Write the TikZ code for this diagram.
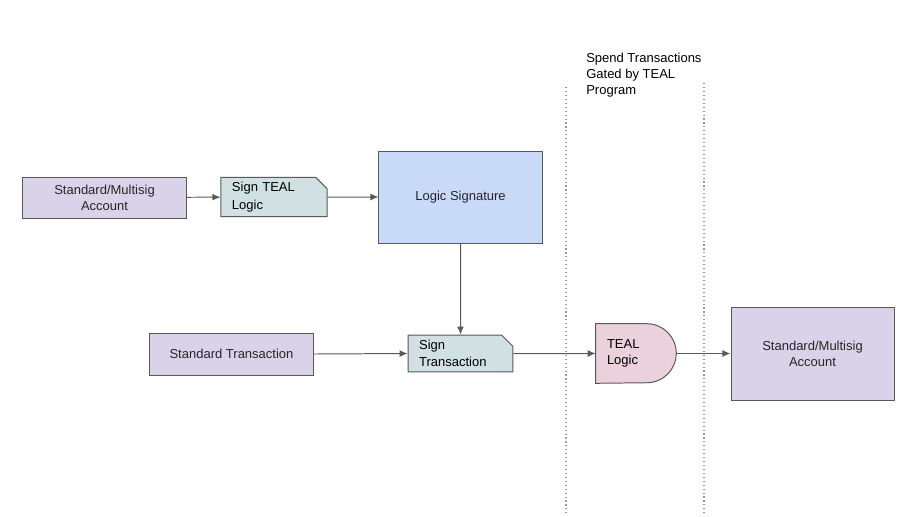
\documentclass[tikz,border=0pt]{standalone}
\usepackage{fontspec}
\setmainfont{Liberation Sans}
\usetikzlibrary{arrows.meta,shapes.misc}

\definecolor{boxline}{HTML}{595959}
\definecolor{lavender}{HTML}{D9D2E9}
\definecolor{tealfill}{HTML}{D0E0E3}
\definecolor{bluefill}{HTML}{C9DAF8}
\definecolor{pinkfill}{HTML}{EAD1DC}

\tikzset{
	acctbox/.style={draw=boxline, line width=0.7pt, fill=lavender, align=center, text=black!85, minimum width=4.075cm},
	signcard/.style={chamfered rectangle, chamfered rectangle corners=north east, chamfered rectangle xsep=0.16cm,
		draw=boxline, line width=0.7pt, fill=tealfill, align=left, inner xsep=0.115cm, inner ysep=0pt,
		font=\fontsize{9.25}{12.4}\selectfont},
	flow/.style={draw=boxline, line width=0.7pt, -{Latex[length=0.2cm,width=0.17cm]}},
	gate/.style={draw=gray!80, line width=0.8pt, dotted},
}

\begin{document}
\begin{tikzpicture}[x=0.025cm, y=0.025cm, font=\fontsize{9.25}{11.4}\selectfont]
		%%%%% START %%%%%
		
		\useasboundingbox (0, 0) rectangle (924, -516);
		
		% gate region
		\coordinate (gl top) at (566, -87);
		\coordinate (gl bot) at (566, -516);
		\coordinate (gr top) at (704, -83);
		\coordinate (gr bot) at (704, -516);
		\draw[gate] (gl top) -- (gl bot);
		\draw[gate] (gr top) -- (gr bot);
		\node[anchor=north west, inner sep=0pt, align=left] (gatetext) at (586, -53) {Spend Transactions\\Gated by TEAL\\Program};
		
		% top row
		\node[acctbox, minimum height=1.025cm] (acct1) at (104.5, -197.5) {Standard/Multisig\\Account};
		\node[signcard, text width=2.1cm, minimum height=0.75cm] (signlogic) at (274, -197) {Sign TEAL\\Logic};
		\node[draw=boxline, line width=0.7pt, fill=bluefill, text=black!85, minimum width=4.075cm, minimum height=2.3cm] (logicsig) at (460.5, -197) {Logic Signature};
		
		% bottom row
		\node[acctbox, minimum height=1.05cm] (stdtx) at (231.5, -354) {Standard Transaction};
		\node[signcard, text width=2.07cm, minimum height=0.775cm] (signtx) at (460.5, -353.5) {Sign\\Transaction};
		\node[minimum width=2cm, minimum height=1.475cm, align=left, text width=1.45cm, inner xsep=0.275cm] (teal) at (636, -353.5) {};
		\fill[pinkfill] (teal.north west) -- ([xshift=-0.7375cm]teal.north east) arc (90:-90:0.7375cm) -- (teal.south west) -- cycle;
		\draw[boxline, line width=0.7pt] (teal.north west) -- ([xshift=-0.7375cm]teal.north east) arc (90:-90:0.7375cm) -- (teal.south west) -- cycle;
		\node[align=left, text width=1.45cm, inner xsep=0.275cm] at (teal) {TEAL\\Logic};
		\node[acctbox, minimum height=2.325cm] (acct2) at (812.5, -353.5) {Standard/Multisig\\Account};
		
		% connectors
		\draw[flow] (acct1) -- (signlogic);
		\draw[flow] (signlogic) -- (logicsig);
		\draw[flow] (logicsig) -- (signtx);
		\draw[flow] (stdtx.east) -- (signtx.west);
		\draw[flow] (signtx) -- (teal);
		\draw[flow] (teal) -- (acct2);
		
		%%%%% END %%%%%
	\end{tikzpicture}
\end{document}
